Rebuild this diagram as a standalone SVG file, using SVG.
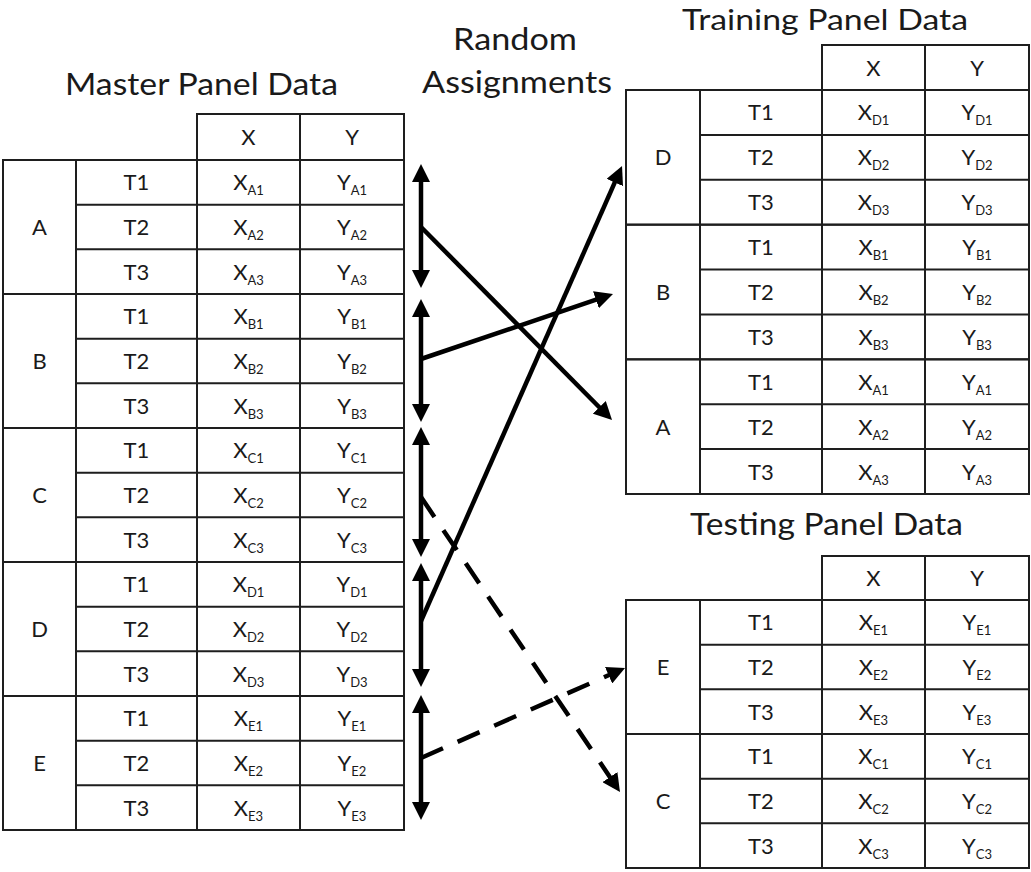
<svg xmlns="http://www.w3.org/2000/svg" width="1031" height="872" viewBox="0 0 1031 872">
<style>
.tb{fill:none;stroke:#1e1e1e;stroke-width:2}
.t{font-family:Lato,"Liberation Sans",sans-serif;font-size:22px;fill:#1a1a1a;text-anchor:middle}
.s{font-size:13px}
.title{font-family:Lato,"Liberation Sans",sans-serif;font-size:31.5px;fill:#1a1a1a}
.ar{stroke:#000;stroke-width:4.5;fill:none}
.dash{stroke-dasharray:24 16}
</style>
<defs>
<marker id="ah" viewBox="0 0 18 18" refX="8" refY="9" markerWidth="18" markerHeight="18" markerUnits="userSpaceOnUse" orient="auto-start-reverse"><path d="M0,0 L18,9 L0,18 z" fill="#000"/></marker>
</defs>
<rect width="1031" height="872" fill="#fff"/>

<g id="titles">
<text class="title" x="65" y="95" textLength="273" lengthAdjust="spacingAndGlyphs">Master Panel Data</text>
<text class="title" x="453" y="50" textLength="124" lengthAdjust="spacingAndGlyphs">Random</text>
<text class="title" x="422" y="93" textLength="190" lengthAdjust="spacingAndGlyphs">Assignments</text>
<text class="title" x="682" y="29.5" textLength="286" lengthAdjust="spacingAndGlyphs" style="font-size:29.5px">Training Panel Data</text>
<text class="title" x="690" y="535" textLength="273" lengthAdjust="spacingAndGlyphs">Testing Panel Data</text>
</g>

<g id="master">
<g id="master-header">
<rect class="tb" x="197" y="114" width="207" height="46"/>
<line class="tb" x1="300" y1="114" x2="300" y2="160"/>
<text class="t" x="248.5" y="145">X</text><text class="t" x="352" y="145">Y</text>
</g>
<g id="master-A">
<rect class="tb" x="3" y="160" width="401" height="134"/>
<path class="tb" d="M76,160V294M197,160V294M300,160V294M76,204.67H404M76,249.33H404"/>
<text class="t" x="39.5" y="235">A</text>
<text class="t" x="136.5" y="190.3">T1</text><text class="t" x="136.5" y="235">T2</text><text class="t" x="136.5" y="279.7">T3</text>
<text class="t" x="248.5" y="190.3">X<tspan class="s" dy="5">A1</tspan></text>
<text class="t" x="248.5" y="235">X<tspan class="s" dy="5">A2</tspan></text>
<text class="t" x="248.5" y="279.7">X<tspan class="s" dy="5">A3</tspan></text>
<text class="t" x="352" y="190.3">Y<tspan class="s" dy="5">A1</tspan></text>
<text class="t" x="352" y="235">Y<tspan class="s" dy="5">A2</tspan></text>
<text class="t" x="352" y="279.7">Y<tspan class="s" dy="5">A3</tspan></text>
</g>
<g id="master-B">
<rect class="tb" x="3" y="294" width="401" height="134"/>
<path class="tb" d="M76,294V428M197,294V428M300,294V428M76,338.67H404M76,383.33H404"/>
<text class="t" x="39.5" y="369">B</text>
<text class="t" x="136.5" y="324.3">T1</text><text class="t" x="136.5" y="369">T2</text><text class="t" x="136.5" y="413.7">T3</text>
<text class="t" x="248.5" y="324.3">X<tspan class="s" dy="5">B1</tspan></text>
<text class="t" x="248.5" y="369">X<tspan class="s" dy="5">B2</tspan></text>
<text class="t" x="248.5" y="413.7">X<tspan class="s" dy="5">B3</tspan></text>
<text class="t" x="352" y="324.3">Y<tspan class="s" dy="5">B1</tspan></text>
<text class="t" x="352" y="369">Y<tspan class="s" dy="5">B2</tspan></text>
<text class="t" x="352" y="413.7">Y<tspan class="s" dy="5">B3</tspan></text>
</g>
<g id="master-C">
<rect class="tb" x="3" y="428" width="401" height="134"/>
<path class="tb" d="M76,428V562M197,428V562M300,428V562M76,472.67H404M76,517.33H404"/>
<text class="t" x="39.5" y="503">C</text>
<text class="t" x="136.5" y="458.3">T1</text><text class="t" x="136.5" y="503">T2</text><text class="t" x="136.5" y="547.7">T3</text>
<text class="t" x="248.5" y="458.3">X<tspan class="s" dy="5">C1</tspan></text>
<text class="t" x="248.5" y="503">X<tspan class="s" dy="5">C2</tspan></text>
<text class="t" x="248.5" y="547.7">X<tspan class="s" dy="5">C3</tspan></text>
<text class="t" x="352" y="458.3">Y<tspan class="s" dy="5">C1</tspan></text>
<text class="t" x="352" y="503">Y<tspan class="s" dy="5">C2</tspan></text>
<text class="t" x="352" y="547.7">Y<tspan class="s" dy="5">C3</tspan></text>
</g>
<g id="master-D">
<rect class="tb" x="3" y="562" width="401" height="134"/>
<path class="tb" d="M76,562V696M197,562V696M300,562V696M76,606.67H404M76,651.33H404"/>
<text class="t" x="39.5" y="637">D</text>
<text class="t" x="136.5" y="592.3">T1</text><text class="t" x="136.5" y="637">T2</text><text class="t" x="136.5" y="681.7">T3</text>
<text class="t" x="248.5" y="592.3">X<tspan class="s" dy="5">D1</tspan></text>
<text class="t" x="248.5" y="637">X<tspan class="s" dy="5">D2</tspan></text>
<text class="t" x="248.5" y="681.7">X<tspan class="s" dy="5">D3</tspan></text>
<text class="t" x="352" y="592.3">Y<tspan class="s" dy="5">D1</tspan></text>
<text class="t" x="352" y="637">Y<tspan class="s" dy="5">D2</tspan></text>
<text class="t" x="352" y="681.7">Y<tspan class="s" dy="5">D3</tspan></text>
</g>
<g id="master-E">
<rect class="tb" x="3" y="696" width="401" height="134"/>
<path class="tb" d="M76,696V830M197,696V830M300,696V830M76,740.67H404M76,785.33H404"/>
<text class="t" x="39.5" y="771">E</text>
<text class="t" x="136.5" y="726.3">T1</text><text class="t" x="136.5" y="771">T2</text><text class="t" x="136.5" y="815.7">T3</text>
<text class="t" x="248.5" y="726.3">X<tspan class="s" dy="5">E1</tspan></text>
<text class="t" x="248.5" y="771">X<tspan class="s" dy="5">E2</tspan></text>
<text class="t" x="248.5" y="815.7">X<tspan class="s" dy="5">E3</tspan></text>
<text class="t" x="352" y="726.3">Y<tspan class="s" dy="5">E1</tspan></text>
<text class="t" x="352" y="771">Y<tspan class="s" dy="5">E2</tspan></text>
<text class="t" x="352" y="815.7">Y<tspan class="s" dy="5">E3</tspan></text>
</g>
</g>

<g id="training">
<g id="training-header">
<rect class="tb" x="822" y="45" width="207" height="45"/>
<line class="tb" x1="925" y1="45" x2="925" y2="90"/>
<text class="t" x="873.5" y="75.5">X</text><text class="t" x="977" y="75.5">Y</text>
</g>
<g id="training-D">
<rect class="tb" x="626" y="90" width="403" height="134.67"/>
<path class="tb" d="M700,90V224.67M822,90V224.67M925,90V224.67M700,134.89H1029M700,179.78H1029"/>
<text class="t" x="663" y="165.3">D</text>
<text class="t" x="761" y="120.4">T1</text><text class="t" x="761" y="165.3">T2</text><text class="t" x="761" y="210.2">T3</text>
<text class="t" x="873.5" y="120.4">X<tspan class="s" dy="5">D1</tspan></text>
<text class="t" x="873.5" y="165.3">X<tspan class="s" dy="5">D2</tspan></text>
<text class="t" x="873.5" y="210.2">X<tspan class="s" dy="5">D3</tspan></text>
<text class="t" x="977" y="120.4">Y<tspan class="s" dy="5">D1</tspan></text>
<text class="t" x="977" y="165.3">Y<tspan class="s" dy="5">D2</tspan></text>
<text class="t" x="977" y="210.2">Y<tspan class="s" dy="5">D3</tspan></text>
</g>
<g id="training-B">
<rect class="tb" x="626" y="224.67" width="403" height="134.67"/>
<path class="tb" d="M700,224.67V359.33M822,224.67V359.33M925,224.67V359.33M700,269.56H1029M700,314.44H1029"/>
<text class="t" x="663" y="300">B</text>
<text class="t" x="761" y="255.1">T1</text><text class="t" x="761" y="300">T2</text><text class="t" x="761" y="344.9">T3</text>
<text class="t" x="873.5" y="255.1">X<tspan class="s" dy="5">B1</tspan></text>
<text class="t" x="873.5" y="300">X<tspan class="s" dy="5">B2</tspan></text>
<text class="t" x="873.5" y="344.9">X<tspan class="s" dy="5">B3</tspan></text>
<text class="t" x="977" y="255.1">Y<tspan class="s" dy="5">B1</tspan></text>
<text class="t" x="977" y="300">Y<tspan class="s" dy="5">B2</tspan></text>
<text class="t" x="977" y="344.9">Y<tspan class="s" dy="5">B3</tspan></text>
</g>
<g id="training-A">
<rect class="tb" x="626" y="359.33" width="403" height="134.67"/>
<path class="tb" d="M700,359.33V494M822,359.33V494M925,359.33V494M700,404.22H1029M700,449.11H1029"/>
<text class="t" x="663" y="434.6">A</text>
<text class="t" x="761" y="389.7">T1</text><text class="t" x="761" y="434.6">T2</text><text class="t" x="761" y="479.5">T3</text>
<text class="t" x="873.5" y="389.7">X<tspan class="s" dy="5">A1</tspan></text>
<text class="t" x="873.5" y="434.6">X<tspan class="s" dy="5">A2</tspan></text>
<text class="t" x="873.5" y="479.5">X<tspan class="s" dy="5">A3</tspan></text>
<text class="t" x="977" y="389.7">Y<tspan class="s" dy="5">A1</tspan></text>
<text class="t" x="977" y="434.6">Y<tspan class="s" dy="5">A2</tspan></text>
<text class="t" x="977" y="479.5">Y<tspan class="s" dy="5">A3</tspan></text>
</g>
</g>

<g id="testing">
<g id="testing-header">
<rect class="tb" x="822" y="556" width="207" height="44"/>
<line class="tb" x1="925" y1="556" x2="925" y2="600"/>
<text class="t" x="873.5" y="586">X</text><text class="t" x="977" y="586">Y</text>
</g>
<g id="testing-E">
<rect class="tb" x="626" y="600" width="403" height="134"/>
<path class="tb" d="M700,600V734M822,600V734M925,600V734M700,644.67H1029M700,689.33H1029"/>
<text class="t" x="663" y="675">E</text>
<text class="t" x="761" y="630.3">T1</text><text class="t" x="761" y="675">T2</text><text class="t" x="761" y="719.7">T3</text>
<text class="t" x="873.5" y="630.3">X<tspan class="s" dy="5">E1</tspan></text>
<text class="t" x="873.5" y="675">X<tspan class="s" dy="5">E2</tspan></text>
<text class="t" x="873.5" y="719.7">X<tspan class="s" dy="5">E3</tspan></text>
<text class="t" x="977" y="630.3">Y<tspan class="s" dy="5">E1</tspan></text>
<text class="t" x="977" y="675">Y<tspan class="s" dy="5">E2</tspan></text>
<text class="t" x="977" y="719.7">Y<tspan class="s" dy="5">E3</tspan></text>
</g>
<g id="testing-C">
<rect class="tb" x="626" y="734" width="403" height="134"/>
<path class="tb" d="M700,734V868M822,734V868M925,734V868M700,778.67H1029M700,823.33H1029"/>
<text class="t" x="663" y="809">C</text>
<text class="t" x="761" y="764.3">T1</text><text class="t" x="761" y="809">T2</text><text class="t" x="761" y="853.7">T3</text>
<text class="t" x="873.5" y="764.3">X<tspan class="s" dy="5">C1</tspan></text>
<text class="t" x="873.5" y="809">X<tspan class="s" dy="5">C2</tspan></text>
<text class="t" x="873.5" y="853.7">X<tspan class="s" dy="5">C3</tspan></text>
<text class="t" x="977" y="764.3">Y<tspan class="s" dy="5">C1</tspan></text>
<text class="t" x="977" y="809">Y<tspan class="s" dy="5">C2</tspan></text>
<text class="t" x="977" y="853.7">Y<tspan class="s" dy="5">C3</tspan></text>
</g>
</g>

<g id="connectors">
<line class="ar" x1="421" y1="174" x2="421" y2="278" marker-start="url(#ah)" marker-end="url(#ah)"/>
<line class="ar" x1="421" y1="309" x2="421" y2="412" marker-start="url(#ah)" marker-end="url(#ah)"/>
<line class="ar" x1="421" y1="437" x2="421" y2="547" marker-start="url(#ah)" marker-end="url(#ah)"/>
<line class="ar" x1="421" y1="573" x2="421" y2="677" marker-start="url(#ah)" marker-end="url(#ah)"/>
<line class="ar" x1="421" y1="705" x2="421" y2="810" marker-start="url(#ah)" marker-end="url(#ah)"/>
<line class="ar" x1="421" y1="227" x2="605" y2="413" marker-end="url(#ah)"/>
<line class="ar" x1="421" y1="359" x2="603.5" y2="297.2" marker-end="url(#ah)"/>
<line class="ar" x1="421" y1="621" x2="618" y2="175.2" marker-end="url(#ah)"/>
<line class="ar dash" x1="421" y1="497" x2="614.4" y2="783.7" marker-end="url(#ah)"/>
<line class="ar dash" x1="421" y1="758" x2="615.9" y2="672" marker-end="url(#ah)"/>
</g>
</svg>
